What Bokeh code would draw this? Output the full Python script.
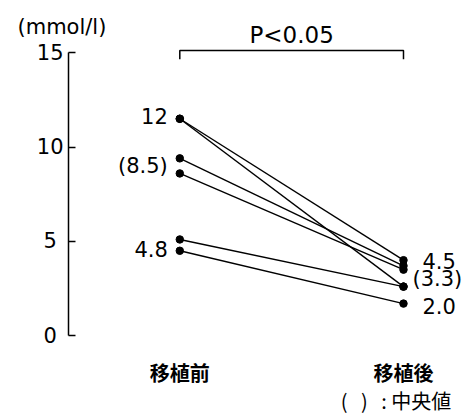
from bokeh.plotting import figure
from bokeh.models import FixedTicker, Range1d, ColumnDataSource
from bokeh.core.properties import value
from bokeh.embed import file_html
from bokeh.resources import INLINE

# ---- data ----
categories = ["移植前", "移植後"]
before = [11.5, 11.5, 9.4, 8.6, 5.1, 4.5]
after = [4.0, 2.6, 3.7, 3.5, 2.6, 1.7]
y_ticks = [0, 5, 10, 15]
left_labels = ["12", "(8.5)", "4.8"]
right_labels = ["4.5", "(3.3)", "2.0"]
p_value_text = "P<0.05"
unit_text = "(mmol/l)"
NB = "\u00a0"
note_text = "(" + NB * 3 + ")" + NB * 3 + ":" + NB + "中央値"

# ---- layout (annotation positions) ----
left_label_y = [11.67, 8.97, 4.62]
right_label_y = [3.98, 3.03, 1.55]
right_label_dx = [19, 9, 19]

LAT = "DejaVu Sans"
CJK = "Noto Sans CJK JP"

p = figure(width=468, height=417,
           x_range=Range1d(-0.8015, 1.2906), y_range=Range1d(-4.34, 17.77),
           output_backend="svg", toolbar_location=None,
           x_axis_location=None,
           min_border_left=0, min_border_right=0,
           min_border_top=0, min_border_bottom=0)
p.outline_line_color = None
p.grid.visible = False
p.background_fill_color = "white"
p.border_fill_color = "white"

ax = p.yaxis[0]
ax.fixed_location = -0.4975
ax.ticker = FixedTicker(ticks=y_ticks)
ax.major_label_overrides = {0: "0" + NB, 5: "5" + NB}
ax.bounds = (0, 15)
ax.major_tick_in = 7
ax.major_tick_out = 0
ax.minor_tick_in = 0
ax.minor_tick_out = 0
ax.axis_line_width = 1.5
ax.major_tick_line_width = 1.5
ax.axis_line_color = "black"
ax.major_tick_line_color = "black"
ax.major_label_text_font = LAT
ax.major_label_text_font_size = "21px"
ax.major_label_text_color = "black"
ax.major_label_standoff = 5

n = len(before)
xs = [[0, 1] for _ in range(n)]
ys = [[b, a] for b, a in zip(before, after)]
p.multi_line(xs=xs, ys=ys, line_color="black", line_width=1.4)
p.scatter(x=[0] * n + [1] * n, y=before + after, size=7.5,
          fill_color="black", line_color="black")

# significance bracket
p.line(x=[0, 0, 1, 1], y=[14.65, 15.12, 15.12, 14.65],
       line_color="black", line_width=1.5)
p.text(x=[0.5], y=[15.95], text=[p_value_text], text_align="center",
       text_baseline="middle", text_font=value(LAT),
       text_font_size="23px", text_color="black")

# value labels
p.text(x=[0] * 3, y=left_label_y, text=left_labels, x_offset=-12,
       text_align="right", text_baseline="middle", text_font=value(LAT),
       text_font_size="21px", text_color="black")
src_r = ColumnDataSource(dict(x=[1] * 3, y=right_label_y, t=right_labels,
                              dx=right_label_dx))
p.text(x="x", y="y", text="t", x_offset="dx", source=src_r,
       text_align="left", text_baseline="middle", text_font=value(LAT),
       text_font_size="21px", text_color="black")

# category labels
p.text(x=[0, 1], y=[-1.95, -1.95], text=categories, text_align="center",
       text_baseline="middle", text_font=value(CJK), text_font_size="20px",
       text_font_style="bold", text_color="black")

# footnote
p.text(x=[0.72], y=[-3.44], text=[note_text], text_align="left",
       text_baseline="middle", text_font=value(CJK), text_font_size="20px",
       text_color="black")

# unit label
p.text(x=[-0.7255], y=[16.37], text=[unit_text], text_align="left",
       text_baseline="middle", text_font=value(LAT),
       text_font_size="21px", text_color="black")

open("out.html", "w").write(file_html(p, INLINE))
